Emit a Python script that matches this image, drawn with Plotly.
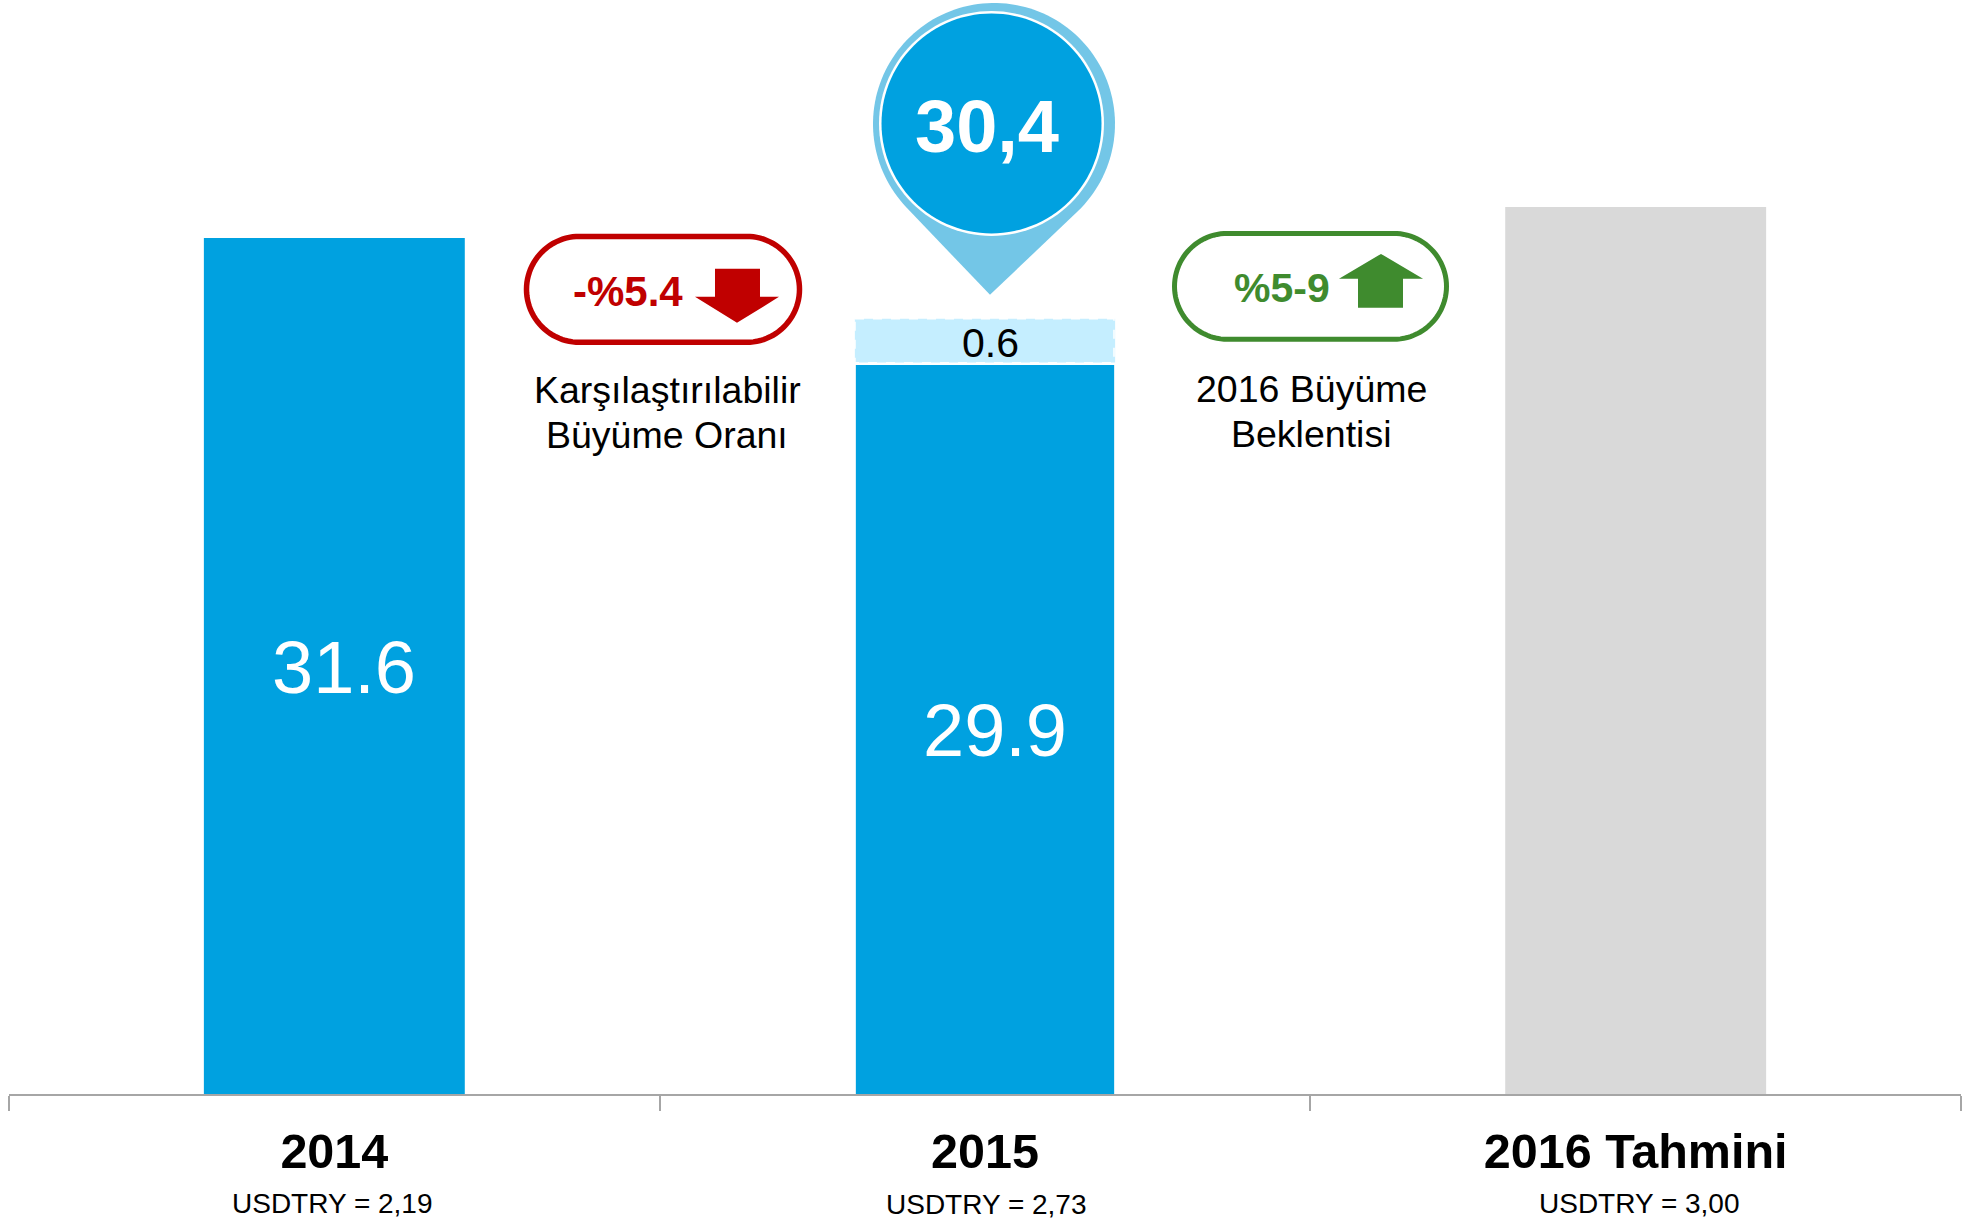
import math
import plotly.graph_objects as go

W, H = 1977, 1220
PL, PR, PT, PB = 9, 1961, 0, 1094.5

categories = ["2014", "2015", "2016 Tahmini"]
bar_heights = [31.6, 26.91, 32.74]
bar_colors = ["#00A1E0", "#00A1E0", "#D9D9D9"]
bar_widths = [0.401, 0.397, 0.401]
upper_base = 27.0
upper_height = 1.62
labels_value = ["31.6", "29.9", "0.6", "30,4"]
labels_fx = ["USDTRY = 2,19", "USDTRY = 2,73", "USDTRY = 3,00"]
ymax = (PB - PT) * 31.6 / 856.5

BLUE, PIN, LIGHT = "#00A1E0", "#73C6E7", "#C5EEFF"
RED, GREEN, GREY = "#C00000", "#3F8B2E", "#A6A6A6"
FONT = "Liberation Sans"


def px(x):
    return (x - PL) / (PR - PL)


def py(y):
    return (PB - y) / (PB - PT)


def path(points):
    return "M " + " L ".join(f"{px(x):.5f},{py(y):.5f}" for x, y in points) + " Z"


def arc(cx, cy, r, a0, a1, n=48):
    return [(cx + r * math.cos(math.radians(a0 + (a1 - a0) * i / n)),
             cy + r * math.sin(math.radians(a0 + (a1 - a0) * i / n))) for i in range(n + 1)]


def poly(points, fill, line=None, width=0):
    return dict(type="path", xref="paper", yref="paper", path=path(points),
                fillcolor=fill, line=dict(color=line or fill, width=width), layer="above")


def pill(x0, y0, x1, y1, color, width=5):
    r = (y1 - y0) / 2
    pts = arc(x1 - r, y0 + r, r, -90, 90) + arc(x0 + r, y0 + r, r, 90, 270)
    return poly(pts, "rgba(0,0,0,0)", color, width)


def pin(cx, cy, r, tipx, tipy):
    d = math.hypot(tipx - cx, tipy - cy)
    base = math.degrees(math.atan2(tipy - cy, tipx - cx))
    half = math.degrees(math.acos(r / d))
    return arc(cx, cy, r, base + half, base + 360 - half, 120) + [(tipx, tipy)]


def text(x, y, s, size, color="#000000", bold=False):
    return dict(xref="paper", yref="paper", x=px(x), y=py(y), xanchor="center", yanchor="middle",
                text=f"<b>{s}</b>" if bold else s, showarrow=False,
                font=dict(family=FONT, size=size, color=color))


fig = go.Figure()
fig.add_bar(x=categories, y=bar_heights, width=bar_widths, marker=dict(color=bar_colors, line_width=0),
            hoverinfo="skip", showlegend=False)
fig.add_bar(x=[categories[1]], y=[upper_height], base=[upper_base], width=[0.4],
            marker=dict(color=LIGHT, line_width=0), hoverinfo="skip", showlegend=False)

shapes = [
    dict(type="rect", xref="paper", yref="paper", x0=px(855), x1=px(1114), y0=py(319), y1=py(363),
         fillcolor="rgba(0,0,0,0)", line=dict(color="#FFFFFF", width=1.5, dash="dash"), layer="above"),
    poly(pin(994, 124, 121, 990, 295), PIN),
    poly(arc(991.5, 123.5, 112.5, 0, 360, 120), "#FFFFFF"),
    poly(arc(991.5, 123.5, 110, 0, 360, 120), BLUE),
    pill(526.5, 236.5, 799.5, 342.5, RED, 5.5),
    poly([(715, 269), (760, 269), (760, 297), (779, 297), (737, 323), (695, 297), (715, 297)], RED),
    pill(1174.5, 233.5, 1446.5, 339.5, GREEN, 5),
    poly([(1381, 254), (1423, 279), (1403, 279), (1403, 308), (1358, 308), (1358, 279), (1339, 279)], GREEN),
]

annotations = [
    text(344, 668, labels_value[0], 74, "#FFFFFF"),
    text(995, 731, labels_value[1], 74, "#FFFFFF"),
    text(990, 343, labels_value[2], 41, "#000000"),
    text(987, 127, labels_value[3], 74, "#FFFFFF", True),
    text(628, 292, "-%5.4", 42, RED, True),
    text(1282, 288, "%5-9", 41, GREEN, True),
    text(667, 390, "Karşılaştırılabilir", 37.5),
    text(667, 435, "Büyüme Oranı", 37.5),
    text(1311, 389, "2016 Büyüme", 37.5),
    text(1311, 434, "Beklentisi", 37.5),
    text(332, 1204, labels_fx[0], 28),
    text(986, 1205, labels_fx[1], 28),
    text(1639, 1204, labels_fx[2], 28),
]

fig.update_layout(
    width=W, height=H, autosize=False, barmode="overlay",
    margin=dict(l=PL, r=W - PR, t=PT, b=H - PB, pad=0),
    paper_bgcolor="#FFFFFF", plot_bgcolor="#FFFFFF", showlegend=False,
    shapes=shapes, annotations=annotations,
    xaxis=dict(type="category", categoryorder="array", categoryarray=categories, range=[-0.5, 2.5],
               tickmode="array", tickvals=categories, ticktext=[f"<b>{c}</b>" for c in categories],
               tickson="boundaries", ticks="outside", ticklen=15, tickwidth=2, tickcolor=GREY,
               showline=True, linecolor=GREY, linewidth=2, showgrid=False, zeroline=False,
               ticklabelstandoff=14, tickfont=dict(family=FONT, size=48.5, color="#000000"), fixedrange=True),
    yaxis=dict(range=[0, ymax], visible=False, showgrid=False, zeroline=False, fixedrange=True),
)
fig.write_html("out.html", config=dict(displayModeBar=False),
               post_script="document.body.style.margin='0';document.body.style.overflow='hidden';")
